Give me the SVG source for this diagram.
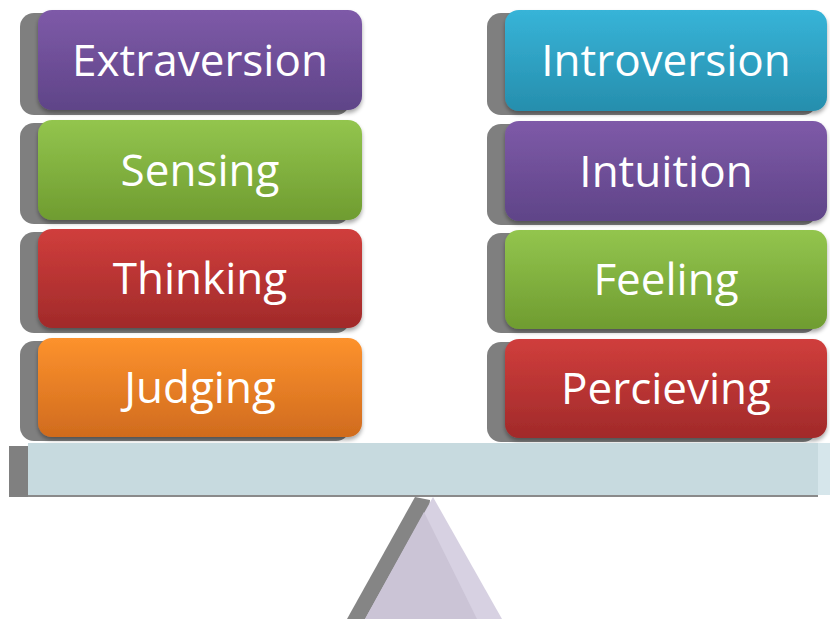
<svg xmlns="http://www.w3.org/2000/svg" width="830" height="619" viewBox="0 0 830 619">
<defs>
<linearGradient id="gPurple" x1="0" y1="0" x2="0" y2="1"><stop offset="0" stop-color="#7e5aa8"/><stop offset="1" stop-color="#5f4488"/></linearGradient>
<linearGradient id="gGreen" x1="0" y1="0" x2="0" y2="1"><stop offset="0" stop-color="#93c54e"/><stop offset="1" stop-color="#6f9c30"/></linearGradient>
<linearGradient id="gRed" x1="0" y1="0" x2="0" y2="1"><stop offset="0" stop-color="#d03e3c"/><stop offset="1" stop-color="#a12a2a"/></linearGradient>
<linearGradient id="gOrange" x1="0" y1="0" x2="0" y2="1"><stop offset="0" stop-color="#fd922d"/><stop offset="1" stop-color="#d06b1e"/></linearGradient>
<linearGradient id="gCyan" x1="0" y1="0" x2="0" y2="1"><stop offset="0" stop-color="#37b4d8"/><stop offset="1" stop-color="#268ead"/></linearGradient>
<filter id="ds" x="-5%" y="-10%" width="110%" height="125%"><feGaussianBlur in="SourceAlpha" stdDeviation="2"/><feOffset dx="0" dy="3"/><feComponentTransfer><feFuncA type="linear" slope="0.35"/></feComponentTransfer><feMerge><feMergeNode/><feMergeNode in="SourceGraphic"/></feMerge></filter>
</defs>
<style>
.sh{fill:#7f7f7f}
.lbl{font-family:"Open Sans","Liberation Sans",sans-serif;font-size:44px;font-weight:500;fill:#ffffff;text-anchor:middle}
</style>
<rect width="830" height="619" fill="#ffffff"/>
<g id="extraversion"><rect class="sh" x="20" y="13" width="330" height="102" rx="14"/><rect x="38" y="10" width="324" height="100" rx="14" fill="url(#gPurple)" filter="url(#ds)"/><text class="lbl" x="200" y="76">Extraversion</text></g>
<g id="sensing"><rect class="sh" x="20" y="123" width="330" height="101" rx="14"/><rect x="38" y="120" width="324" height="100" rx="14" fill="url(#gGreen)" filter="url(#ds)"/><text class="lbl" x="200" y="186">Sensing</text></g>
<g id="thinking"><rect class="sh" x="20" y="232" width="330" height="101" rx="14"/><rect x="38" y="229" width="324" height="99" rx="14" fill="url(#gRed)" filter="url(#ds)"/><text class="lbl" x="200" y="294">Thinking</text></g>
<g id="judging"><rect class="sh" x="20" y="341" width="330" height="100" rx="14"/><rect x="38" y="338" width="324" height="99" rx="14" fill="url(#gOrange)" filter="url(#ds)"/><text class="lbl" x="200" y="403">Judging</text></g>
<g id="introversion"><rect class="sh" x="487" y="13" width="330" height="102" rx="14"/><rect x="505" y="10" width="322" height="101" rx="14" fill="url(#gCyan)" filter="url(#ds)"/><text class="lbl" x="666" y="76">Introversion</text></g>
<g id="intuition"><rect class="sh" x="487" y="124" width="330" height="101" rx="14"/><rect x="505" y="121" width="322" height="100" rx="14" fill="url(#gPurple)" filter="url(#ds)"/><text class="lbl" x="666" y="187">Intuition</text></g>
<g id="feeling"><rect class="sh" x="487" y="233" width="330" height="100" rx="14"/><rect x="505" y="230" width="322" height="99" rx="14" fill="url(#gGreen)" filter="url(#ds)"/><text class="lbl" x="666" y="295">Feeling</text></g>
<g id="percieving"><rect class="sh" x="487" y="342" width="330" height="100" rx="14"/><rect x="505" y="339" width="322" height="99" rx="14" fill="url(#gRed)" filter="url(#ds)"/><text class="lbl" x="666" y="404">Percieving</text></g>
<g id="beam">
<rect x="9" y="446" width="22" height="51" fill="#808080"/>
<rect x="28" y="443" width="802" height="52" fill="#c7dadf"/>
<rect x="818" y="443" width="12" height="52" fill="#d6e6eb"/>
<rect x="28" y="495" width="790" height="2" fill="#8a8a8a"/>
</g>
<g id="fulcrum">
<polygon points="415,497 347,619 420,619 430,500" fill="#858585"/>
<polygon points="433,497 365,619 502,619" fill="#d7d1e2"/>
<polygon points="424,512 365,619 477,619" fill="#cbc4d6"/>
</g>
<g id="connectors"></g>
</svg>
